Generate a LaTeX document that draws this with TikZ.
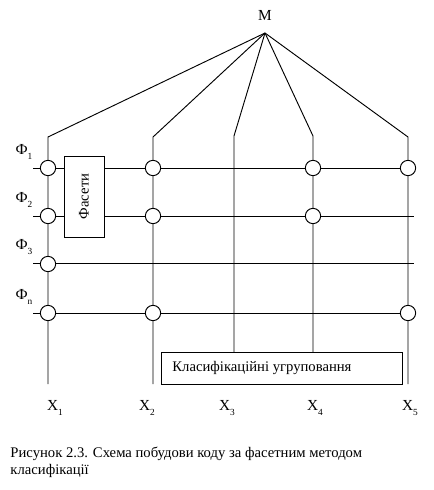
\documentclass[tikz,border=0pt]{standalone}
\usepackage{fontspec}
\setmainfont{Liberation Serif}
\begin{document}
\begin{tikzpicture}[x=0.75pt,y=-0.75pt,line width=0.7pt,
  junc/.style={circle,draw,fill=white,minimum size=11.5pt,inner sep=0pt},
  lbl/.style={font=\fontsize{11.5}{13}\selectfont,inner sep=0pt},
  boxlbl/.style={font=\fontsize{11}{13}\selectfont,inner sep=0pt},
  capt/.style={font=\fontsize{11}{12.75}\selectfont,inner sep=0pt,anchor=north west,align=left}]
\useasboundingbox (0,0) rectangle (434,490);
% apex
\coordinate (M) at (265,33);
\node[lbl] (Mlbl) at (265,15) {M};
% bends
\coordinate (b1) at (48,137);
\coordinate (b2) at (153,137);
\coordinate (b3) at (234,136);
\coordinate (b4) at (313,136);
\coordinate (b5) at (408,137);
% bottoms
\coordinate (e1) at (48,384);
\coordinate (e2) at (153,384);
\coordinate (e5) at (408,384);
% boxes
\node[draw,minimum width=30pt,minimum height=60.75pt,inner sep=0pt] (fac) at (84,196.5) {};
\node[boxlbl,rotate=90] (factxt) at (84,196.5) {Фасети};
\node[draw,minimum width=180.75pt,minimum height=24pt,inner sep=0pt] (grp) at (281.5,368) {};
\node[boxlbl,anchor=west] (grptxt) at (172,368) {Класифікаційні угруповання};
\coordinate (t3) at (234,352);
\coordinate (t4) at (313,352);
% row line ends
\coordinate (s1) at (33,168); \coordinate (f1) at (408,168);
\coordinate (s2) at (33,216); \coordinate (f2) at (414,216);
\coordinate (s3) at (33,263); \coordinate (f3) at (414,263);
\coordinate (s4) at (33,313); \coordinate (f4) at (408,313);
% lines from M
\draw (M) -- (b1) -- (e1);
\draw (M) -- (b2) -- (e2);
\draw (M) -- (b3) -- (t3);
\draw (M) -- (b4) -- (t4);
\draw (M) -- (b5) -- (e5);
% rows
\draw (s1) -- (fac.west |- s1);
\draw (fac.east |- s1) -- (f1);
\draw (s2) -- (fac.west |- s2);
\draw (fac.east |- s2) -- (f2);
\draw (s3) -- (f3);
\draw (s4) -- (f4);
% junctions
\node[junc] (j11) at (48,168) {};
\node[junc] (j12) at (48,216) {};
\node[junc] (j13) at (48,264) {};
\node[junc] (j14) at (48,313) {};
\node[junc] (j21) at (153,168) {};
\node[junc] (j22) at (153,216) {};
\node[junc] (j24) at (153,313) {};
\node[junc] (j41) at (313,168) {};
\node[junc] (j42) at (313,216) {};
\node[junc] (j51) at (408,168) {};
\node[junc] (j54) at (408,313) {};
% row labels
\node[lbl] (p1) at (24,152) {Ф\raisebox{-0.6ex}{\scriptsize 1}};
\node[lbl] (p2) at (24,200) {Ф\raisebox{-0.6ex}{\scriptsize 2}};
\node[lbl] (p3) at (24,247) {Ф\raisebox{-0.6ex}{\scriptsize 3}};
\node[lbl] (p4) at (24,297) {Ф\raisebox{-0.6ex}{\scriptsize n}};
% column labels
\node[lbl] (x1) at (55,408) {X\raisebox{-0.6ex}{\scriptsize 1}};
\node[lbl] (x2) at (147,408) {X\raisebox{-0.6ex}{\scriptsize 2}};
\node[lbl] (x3) at (227,408) {X\raisebox{-0.6ex}{\scriptsize 3}};
\node[lbl] (x4) at (315,408) {X\raisebox{-0.6ex}{\scriptsize 4}};
\node[lbl] (x5) at (410,408) {X\raisebox{-0.6ex}{\scriptsize 5}};
% caption
\node[capt] (cap) at (10,447) {Рисунок 2.3. Схема побудови коду за фасетним методом\\класифікації};
\end{tikzpicture}
\end{document}
